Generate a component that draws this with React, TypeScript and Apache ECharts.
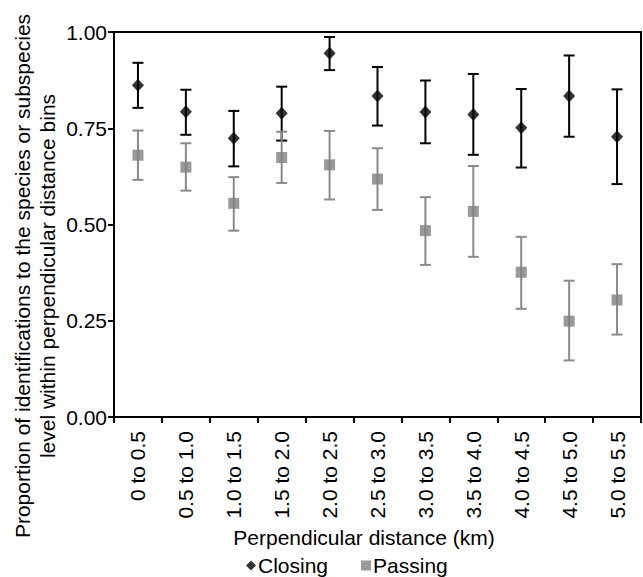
import React, { useEffect, useRef } from "react";
import * as echarts from "echarts";

const categories = [
  "0 to 0.5", "0.5 to 1.0", "1.0 to 1.5", "1.5 to 2.0", "2.0 to 2.5", "2.5 to 3.0",
  "3.0 to 3.5", "3.5 to 4.0", "4.0 to 4.5", "4.5 to 5.0", "5.0 to 5.5",
];
const closingMean = [0.862, 0.793, 0.724, 0.789, 0.945, 0.834, 0.792, 0.786, 0.751, 0.834, 0.728];
const closingLow = [0.803, 0.733, 0.651, 0.718, 0.901, 0.757, 0.711, 0.681, 0.648, 0.728, 0.605];
const closingHigh = [0.920, 0.850, 0.795, 0.858, 0.987, 0.909, 0.874, 0.891, 0.852, 0.939, 0.851];
const passingMean = [0.680, 0.649, 0.555, 0.674, 0.655, 0.618, 0.484, 0.534, 0.376, 0.249, 0.304];
const passingLow = [0.616, 0.588, 0.484, 0.608, 0.565, 0.538, 0.395, 0.416, 0.281, 0.147, 0.214];
const passingHigh = [0.744, 0.711, 0.623, 0.741, 0.743, 0.698, 0.571, 0.652, 0.468, 0.354, 0.397];
const yTicks = [0, 0.25, 0.5, 0.75, 1.0];

const FONT = "Liberation Sans, Arial, sans-serif";
const FS = 21;

function errorSeries(name: string, low: number[], high: number[], color: string) {
  return {
    name,
    type: "custom",
    z: 2,
    data: low.map((l, i) => [i, l, high[i]]),
    encode: { x: 0, y: [1, 2] },
    renderItem: (_params: any, api: any) => {
      const x = api.value(0);
      const pLo = api.coord([x, api.value(1)]);
      const pHi = api.coord([x, api.value(2)]);
      const hw = 5.5;
      const style = { stroke: color, lineWidth: 2 };
      return {
        type: "group",
        children: [
          { type: "line", shape: { x1: pLo[0], y1: pHi[1], x2: pLo[0], y2: pLo[1] }, style },
          { type: "line", shape: { x1: pLo[0] - hw, y1: pHi[1], x2: pLo[0] + hw, y2: pHi[1] }, style },
          { type: "line", shape: { x1: pLo[0] - hw, y1: pLo[1], x2: pLo[0] + hw, y2: pLo[1] }, style },
        ],
      };
    },
  };
}

export default function App() {
  const ref = useRef<HTMLDivElement>(null);
  useEffect(() => {
    if (!ref.current) return;
    const chart = echarts.init(ref.current, null, { renderer: "svg" });
    chart.setOption({
      animation: false,
      backgroundColor: "#fff",
      textStyle: { fontFamily: FONT },
      grid: {
        left: 114, right: 2, top: 32, bottom: 160,
        show: true, borderColor: "#000", borderWidth: 2,
      },
      legend: {
        data: [
          { name: "Closing", icon: "diamond" },
          { name: "Passing", icon: "rect" },
        ],
        left: 246, top: 555, padding: 0,
        itemWidth: 10, itemHeight: 10, itemGap: 33,
        selectedMode: false,
        textStyle: { fontSize: FS, color: "#000", fontFamily: FONT, padding: [0, 0, 0, -3] },
      },
      xAxis: {
        type: "category",
        data: categories,
        boundaryGap: true,
        axisLine: { lineStyle: { color: "#000", width: 2 } },
        axisTick: { show: true, length: 6, lineStyle: { color: "#000", width: 2 } },
        axisLabel: { rotate: 90, margin: 14, fontSize: FS, color: "#000", fontFamily: FONT, interval: 0 },
        splitLine: { show: false },
      },
      yAxis: {
        type: "value",
        min: yTicks[0],
        max: yTicks[yTicks.length - 1],
        interval: 0.25,
        axisLine: { show: true, lineStyle: { color: "#000", width: 2 } },
        axisTick: { show: true, length: 6, lineStyle: { color: "#000", width: 2 } },
        axisLabel: { margin: 7, fontSize: FS, color: "#000", fontFamily: FONT, formatter: (v: number) => v.toFixed(2) },
        splitLine: { show: false },
      },
      graphic: [
        {
          type: "text",
          x: 35, y: 276,
          rotation: Math.PI / 2,
          style: {
            text: "Proportion of identifications to the species or subspecies\nlevel within perpendicular distance bins",
            fontSize: FS, fontFamily: FONT, fill: "#000",
            align: "center", verticalAlign: "middle", lineHeight: 25,
          },
        },
        {
          type: "text",
          x: 364, y: 537,
          style: {
            text: "Perpendicular distance (km)",
            fontSize: FS, fontFamily: FONT, fill: "#000",
            align: "center", verticalAlign: "middle",
          },
        },
      ],
      series: [
        errorSeries("closingErr", closingLow, closingHigh, "#000"),
        errorSeries("passingErr", passingLow, passingHigh, "#8a8a8a"),
        {
          name: "Closing",
          type: "scatter",
          z: 3,
          symbol: "diamond",
          symbolSize: [12, 13],
          itemStyle: { color: "#000" },
          data: closingMean,
        },
        {
          name: "Passing",
          type: "scatter",
          z: 3,
          symbol: "rect",
          symbolSize: 11,
          itemStyle: { color: "#808080" },
          data: passingMean,
        },
      ],
    });
    return () => chart.dispose();
  }, []);
  return <div ref={ref} style={{ position: "fixed", left: 0, top: 0, width: 643, height: 577 }} />;
}
